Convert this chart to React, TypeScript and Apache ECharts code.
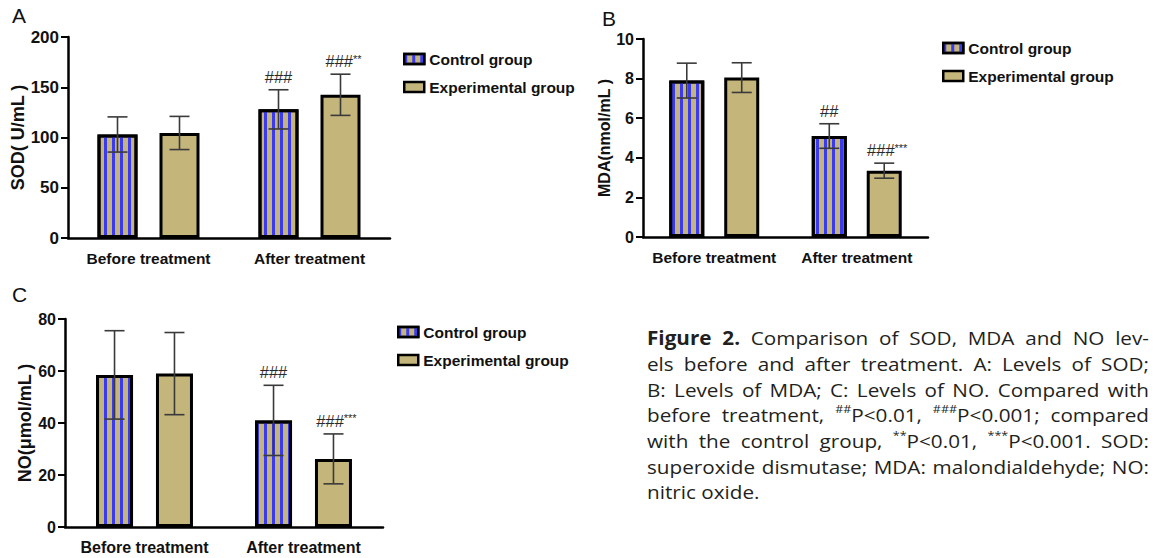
import React, { useEffect, useRef } from 'react';
import * as echarts from 'echarts';

// ---------------- data ----------------
const categories = ['Before treatment', 'After treatment'];
const legendNames = ['Control group', 'Experimental group'];

const sodControl = [103, 128];
const sodControlSD = [17.5, 19.5];
const sodExperimental = [104.5, 142.5];
const sodExperimentalSD = [16.5, 20.5];
const sodControlMarks = ['', '###'];
const sodExperimentalMarks = ['', '###**'];

const mdaControl = [7.9, 5.1];
const mdaControlSD = [0.88, 0.62];
const mdaExperimental = [8.05, 3.35];
const mdaExperimentalSD = [0.75, 0.38];
const mdaControlMarks = ['', '##'];
const mdaExperimentalMarks = ['', '###***'];

const noControl = [58.5, 41];
const noControlSD = [17, 13.5];
const noExperimental = [59, 26.2];
const noExperimentalSD = [15.8, 9.6];
const noControlMarks = ['', '###'];
const noExperimentalMarks = ['', '###***'];

const sodAxis = { max: 200, interval: 50, name: 'SOD( U/mL )' };
const mdaAxis = { max: 10, interval: 2, name: 'MDA(nmol/mL )' };
const noAxis = { max: 80, interval: 20, name: 'NO(μmol/mL )' };

const captionLines = [
  '{b:Figure} {b:2.} Comparison of SOD, MDA and NO lev-',
  'els before and after treatment. A: Levels of SOD;',
  'B: Levels of MDA; C: Levels of NO. Compared with',
  'before treatment, {sup:##}P<0.01, {sup:###}P<0.001; compared',
  'with the control group, {sup:**}P<0.01, {sup:***}P<0.001. SOD:',
  'superoxide dismutase; MDA: malondialdehyde; NO:',
  'nitric oxide.',
];

// ---------------- styles ----------------
const FONT = '"Liberation Sans", Arial, Helvetica, sans-serif';
const CAP_FONT = '"Open Sans", "Liberation Sans", sans-serif';
const TAN = '#c4b57b';
const BLUE = '#3a3af2';
const INK = '#111111';

const panels = [
  {
    letter: 'A', letterX: 12, letterY: 15,
    grid: { left: 68, top: 37, width: 322, height: 201 },
    axis: sodAxis, nameGap: 40, nameSize: 18, ySize: 17, xSize: 15.5,
    barW: 40, gap: 0.55,
    control: sodControl, controlSD: sodControlSD, controlMarks: sodControlMarks,
    exp: sodExperimental, expSD: sodExperimentalSD, expMarks: sodExperimentalMarks,
    legend: { left: 403, top: 51 },
  },
  {
    letter: 'B', letterX: 602, letterY: 18,
    grid: { left: 643, top: 39, width: 285, height: 198 },
    axis: mdaAxis, nameGap: 24, nameSize: 16, ySize: 16, xSize: 15.5,
    barW: 35, gap: 0.57,
    control: mdaControl, controlSD: mdaControlSD, controlMarks: mdaControlMarks,
    exp: mdaExperimental, expSD: mdaExperimentalSD, expMarks: mdaExperimentalMarks,
    legend: { left: 942, top: 40 },
  },
  {
    letter: 'C', letterX: 12, letterY: 294,
    grid: { left: 65, top: 319, width: 318, height: 208 },
    axis: noAxis, nameGap: 28, nameSize: 18, ySize: 16, xSize: 16,
    barW: 37, gap: 0.62,
    control: noControl, controlSD: noControlSD, controlMarks: noControlMarks,
    exp: noExperimental, expSD: noExperimentalSD, expMarks: noExperimentalMarks,
    legend: { left: 397, top: 324 },
  },
];

const stripeDecal = {
  symbol: 'rect',
  symbolSize: 1,
  symbolKeepAspect: false,
  color: BLUE,
  dashArrayX: [3, 5],
  dashArrayY: [20, 0],
  rotation: 0,
};

function parseWord(w: string) {
  const segs: { t: string; bold?: boolean; sup?: boolean }[] = [];
  const re = /\{(b|sup):([^}]*)\}/g;
  let last = 0;
  let m: RegExpExecArray | null;
  while ((m = re.exec(w))) {
    if (m.index > last) segs.push({ t: w.slice(last, m.index) });
    segs.push({ t: m[2], bold: m[1] === 'b', sup: m[1] === 'sup' });
    last = m.index + m[0].length;
  }
  if (last < w.length) segs.push({ t: w.slice(last) });
  return segs;
}

function buildCaption(): any[] {
  const ctx = document.createElement('canvas').getContext('2d') as CanvasRenderingContext2D;
  const size = 19;
  const supSize = 11.5;
  const left = 647;
  const right = 1149;
  const top0 = 338;
  const lh = 25.7;
  const els: any[] = [];
  const measure = (s: any) => {
    ctx.font = `${s.bold ? 'bold ' : ''}${s.sup ? supSize : size}px ${CAP_FONT}`;
    return ctx.measureText(s.t).width;
  };
  let lastScale = 1;
  captionLines.forEach((line, li) => {
    const words = line.split(' ').map(parseWord);
    const wordW = words.map((segs) => segs.reduce((a, s) => a + measure(s), 0));
    const total = wordW.reduce((a, b) => a + b, 0);
    ctx.font = `${size}px ${CAP_FONT}`;
    const natSpace = ctx.measureText(' ').width;
    const isLast = li === captionLines.length - 1;
    const n = words.length;
    let scale = lastScale;
    let space = natSpace;
    if (!isLast && n > 1) {
      // stretch glyphs a little (the source face is wider), then justify the rest
      scale = (right - left) / (total + natSpace * (n - 1));
      scale = Math.max(0.9, Math.min(1.09, scale));
      lastScale = scale;
      space = (right - left - total * scale) / (n - 1) / scale;
    }
    let x = 0;
    const y = top0 + li * lh;
    words.forEach((segs) => {
      segs.forEach((s) => {
        const w = measure(s);
        els.push({
          type: 'text',
          x: left + x * scale,
          y: s.sup ? y - 6 : y,
          scaleX: scale,
          silent: true,
          style: {
            text: s.t,
            fontSize: s.sup ? supSize : size,
            fontWeight: s.bold ? 'bold' : 'normal',
            fontFamily: CAP_FONT,
            fill: '#231f20',
            verticalAlign: 'middle',
            align: 'left',
          },
        });
        x += w;
      });
      x += space;
    });
  });
  return els;
}

function errorSeries(gi: number, means: number[], sds: number[], marks: string[], side: number, barW: number, gap: number) {
  return {
    type: 'custom',
    name: `err-${gi}-${side}`,
    xAxisIndex: gi,
    yAxisIndex: gi,
    z: 10,
    silent: true,
    data: means.map((m, i) => [i, m, sds[i]]),
    encode: { x: 0, y: 1 },
    renderItem: (params: any, api: any) => {
      const i = api.value(0);
      const m = api.value(1);
      const sd = api.value(2);
      const off = (side * barW * (1 + gap)) / 2;
      const cx = api.coord([i, m])[0] + off;
      const yTop = api.coord([i, m + sd])[1];
      const yBot = api.coord([i, m - sd])[1];
      const st = { stroke: '#3a3a3a', lineWidth: 1.6 };
      const children: any[] = [
        { type: 'line', shape: { x1: cx, y1: yTop, x2: cx, y2: yBot }, style: st },
        { type: 'line', shape: { x1: cx - 10, y1: yTop, x2: cx + 10, y2: yTop }, style: st },
        { type: 'line', shape: { x1: cx - 10, y1: yBot, x2: cx + 10, y2: yBot }, style: st },
      ];
      const mark = marks[params.dataIndex];
      if (mark) {
        const mm = mark.match(/^(#*)(\**)$/) || ['', mark, ''];
        const text = mm[2] ? `{h|${mm[1]}}{s|${mm[2]}}` : `{h|${mm[1]}}`;
        children.push({
          type: 'text',
          x: cx + (mm[2] ? 3 : 0),
          y: yTop - 13,
          style: {
            text,
            align: 'center',
            verticalAlign: 'middle',
            rich: {
              h: { fontSize: 16.5, fontFamily: FONT, fill: '#2a2a2a', lineHeight: 16 },
              s: { fontSize: 11, fontFamily: FONT, fill: '#2a2a2a', lineHeight: 16, verticalAlign: 'top' },
            },
          },
        });
      }
      return { type: 'group', children };
    },
  };
}

function buildOption() {
  const grid: any[] = [];
  const xAxis: any[] = [];
  const yAxis: any[] = [];
  const series: any[] = [];
  const legend: any[] = [];
  const graphic: any[] = [];

  panels.forEach((p, gi) => {
    grid.push({ ...p.grid, containLabel: false, outerBoundsMode: 'none' });
    xAxis.push({
      type: 'category',
      gridIndex: gi,
      data: categories,
      axisLine: { lineStyle: { color: '#000', width: 2.5 } },
      axisTick: { alignWithLabel: true, length: 8, lineStyle: { color: '#000', width: 2 } },
      axisLabel: { interval: 0, hideOverlap: false, color: INK, fontWeight: 'bold', fontSize: p.xSize, fontFamily: FONT, margin: 12 },
      splitLine: { show: false },
    });
    yAxis.push({
      type: 'value',
      gridIndex: gi,
      min: 0,
      max: p.axis.max,
      interval: p.axis.interval,
      name: p.axis.name,
      nameLocation: 'middle',
      nameRotate: 90,
      nameGap: p.nameGap,
      nameTextStyle: { color: INK, fontWeight: 'bold', fontSize: p.nameSize, fontFamily: FONT },
      axisLine: { show: true, lineStyle: { color: '#000', width: 2.5 } },
      axisTick: { show: true, length: 7, lineStyle: { color: '#000', width: 2 } },
      axisLabel: { color: INK, fontWeight: 'bold', fontSize: p.ySize, fontFamily: FONT, margin: 9 },
      splitLine: { show: false },
    });
    series.push({
      type: 'bar',
      name: legendNames[0],
      xAxisIndex: gi,
      yAxisIndex: gi,
      data: p.control,
      barWidth: p.barW,
      barGap: `${Math.round(p.gap * 100)}%`,
      itemStyle: { color: TAN, borderColor: '#000', borderWidth: 3, decal: stripeDecal },
    });
    series.push({
      type: 'bar',
      name: legendNames[1],
      xAxisIndex: gi,
      yAxisIndex: gi,
      data: p.exp,
      barWidth: p.barW,
      barGap: `${Math.round(p.gap * 100)}%`,
      itemStyle: { color: TAN, borderColor: '#000', borderWidth: 3 },
    });
    series.push(errorSeries(gi, p.control, p.controlSD, p.controlMarks, -1, p.barW, p.gap));
    series.push(errorSeries(gi, p.exp, p.expSD, p.expMarks, 1, p.barW, p.gap));
    legend.push({
      data: legendNames,
      orient: 'vertical',
      left: p.legend.left,
      top: p.legend.top,
      padding: 0,
      itemWidth: 20,
      itemHeight: 10,
      itemGap: 12,
      selectedMode: false,
      icon: 'rect',
      itemStyle: { borderColor: '#000', borderWidth: 2.5 },
      textStyle: { color: INK, fontWeight: 'bold', fontSize: 15.5, fontFamily: FONT, lineHeight: 16 },
    });
    graphic.push({
      type: 'text',
      x: p.letterX,
      y: p.letterY,
      silent: true,
      style: { text: p.letter, fontSize: 21, fontFamily: FONT, fill: '#111', verticalAlign: 'middle', align: 'left' },
    });
  });

  graphic.push(...buildCaption());

  return {
    animation: false,
    backgroundColor: '#ffffff',
    textStyle: { fontFamily: FONT },
    tooltip: { show: false },
    grid,
    xAxis,
    yAxis,
    legend,
    series,
    graphic,
  };
}

export default function App() {
  const ref = useRef<HTMLDivElement>(null);
  useEffect(() => {
    if (!ref.current) return;
    const chart = echarts.init(ref.current, null, { renderer: 'svg' });
    chart.setOption(buildOption() as any);
    return () => chart.dispose();
  }, []);
  return (
    <div
      ref={ref}
      style={{ position: 'absolute', left: 0, top: 0, width: 1156, height: 558, background: '#fff' }}
    />
  );
}
